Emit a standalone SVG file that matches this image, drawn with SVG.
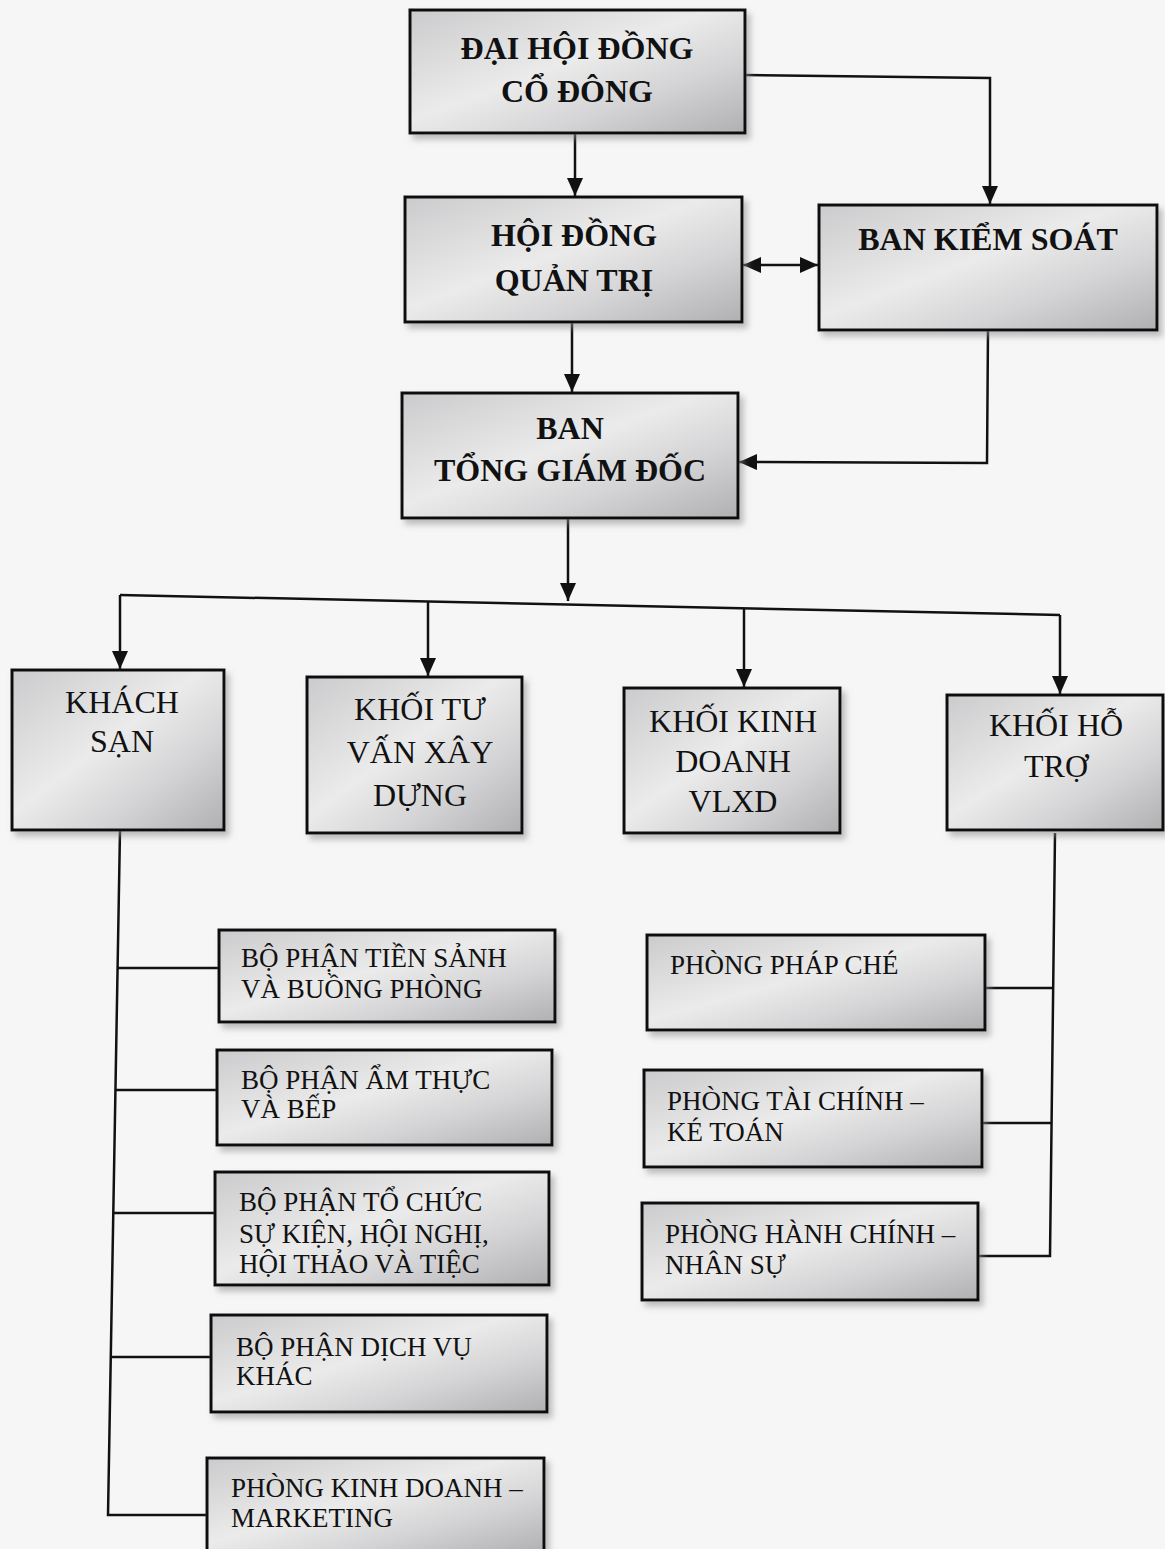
<svg xmlns="http://www.w3.org/2000/svg" width="1165" height="1549" viewBox="0 0 1165 1549">
<defs>
<linearGradient id="metal" x1="0" y1="0" x2="1" y2="1">
<stop offset="0" stop-color="#cbcbcd"/>
<stop offset="0.45" stop-color="#ebebeb"/>
<stop offset="0.7" stop-color="#d4d4d6"/>
<stop offset="1" stop-color="#b0b0b2"/>
</linearGradient>
<filter id="sh" x="-10%" y="-10%" width="125%" height="130%">
<feDropShadow dx="4" dy="5" stdDeviation="3" flood-color="#8a8a8a" flood-opacity="0.55"/>
</filter>
<marker id="arr" viewBox="0 0 18 16" refX="18" refY="8" markerWidth="18" markerHeight="16" markerUnits="userSpaceOnUse" orient="auto">
<path d="M0,0 L18,8 L0,16 Z" fill="#111"/>
</marker>
<marker id="arrs" viewBox="0 0 18 16" refX="0" refY="8" markerWidth="18" markerHeight="16" markerUnits="userSpaceOnUse" orient="auto">
<path d="M18,0 L0,8 L18,16 Z" fill="#111"/>
</marker>
</defs>
<style>
.box{fill:url(#metal);stroke:#111;stroke-width:3;filter:url(#sh)}
.tb{font-family:"Liberation Serif","Times New Roman",serif;font-weight:bold;font-size:32px;fill:#111;text-anchor:middle}
.tm{font-family:"Liberation Serif","Times New Roman",serif;font-size:32px;fill:#111;text-anchor:middle}
.ts{font-family:"Liberation Serif","Times New Roman",serif;font-size:27px;fill:#111}
.ln{fill:none;stroke:#111;stroke-width:2.5}
</style>
<rect width="1165" height="1549" fill="#f6f6f6"/>

<g id="connectors">
<path class="ln" d="M745,75 L990,78 L990,204" marker-end="url(#arr)"/>
<path class="ln" d="M575,133 L575,196" marker-end="url(#arr)"/>
<path class="ln" d="M743,265 L818,265" marker-start="url(#arrs)" marker-end="url(#arr)"/>
<path class="ln" d="M572,322 L572,392" marker-end="url(#arr)"/>
<path class="ln" d="M988,330 L987,463 L739,462" marker-end="url(#arr)"/>
<path class="ln" d="M568,518 L568,601" marker-end="url(#arr)"/>
<path class="ln" d="M120,595 L1060,615"/>
<path class="ln" d="M120,595 L120,669" marker-end="url(#arr)"/>
<path class="ln" d="M428,602 L428,676" marker-end="url(#arr)"/>
<path class="ln" d="M744,609 L744,687" marker-end="url(#arr)"/>
<path class="ln" d="M1060,615 L1060,694" marker-end="url(#arr)"/>
<path class="ln" d="M120,830 L108,1515 L207,1515"/>
<path class="ln" d="M117.6,968 L219,968"/>
<path class="ln" d="M115.4,1090 L217,1090"/>
<path class="ln" d="M113.3,1213 L215,1213"/>
<path class="ln" d="M110.8,1357 L211,1357"/>
<path class="ln" d="M1055,833 L1050,1256 L978,1256"/>
<path class="ln" d="M1053.2,988 L985,988"/>
<path class="ln" d="M1051.6,1123 L982,1123"/>
</g>

<g id="dhdcd">
<rect class="box" x="410" y="10" width="335" height="123"/>
<text class="tb" x="577" y="59">ĐẠI HỘI ĐỒNG</text>
<text class="tb" x="577" y="102">CỔ ĐÔNG</text>
</g>
<g id="hdqt">
<rect class="box" x="405" y="197" width="337" height="125"/>
<text class="tb" x="574" y="246">HỘI ĐỒNG</text>
<text class="tb" x="574" y="291">QUẢN TRỊ</text>
</g>
<g id="bks">
<rect class="box" x="819" y="205" width="338" height="125"/>
<text class="tb" x="988" y="250">BAN KIỂM SOÁT</text>
</g>
<g id="btgd">
<rect class="box" x="402" y="393" width="336" height="125"/>
<text class="tb" x="570" y="439">BAN</text>
<text class="tb" x="570" y="481">TỔNG GIÁM ĐỐC</text>
</g>

<g id="khachsan">
<rect class="box" x="12" y="670" width="212" height="160"/>
<text class="tm" x="122" y="713">KHÁCH</text>
<text class="tm" x="122" y="752">SẠN</text>
</g>
<g id="tuvan">
<rect class="box" x="307" y="677" width="215" height="156"/>
<text class="tm" x="420" y="720">KHỐI TƯ</text>
<text class="tm" x="420" y="763">VẤN XÂY</text>
<text class="tm" x="420" y="806">DỰNG</text>
</g>
<g id="vlxd">
<rect class="box" x="624" y="688" width="216" height="145"/>
<text class="tm" x="733" y="732">KHỐI KINH</text>
<text class="tm" x="733" y="772">DOANH</text>
<text class="tm" x="733" y="812">VLXD</text>
</g>
<g id="hotro">
<rect class="box" x="947" y="695" width="216" height="135"/>
<text class="tm" x="1056" y="736">KHỐI HỖ</text>
<text class="tm" x="1056" y="777">TRỢ</text>
</g>

<g id="tiensanh">
<rect class="box" x="219" y="930" width="336" height="92"/>
<text class="ts" x="241" y="967">BỘ PHẬN TIỀN SẢNH</text>
<text class="ts" x="241" y="998">VÀ BUỒNG PHÒNG</text>
</g>
<g id="amthuc">
<rect class="box" x="217" y="1050" width="335" height="95"/>
<text class="ts" x="241" y="1089">BỘ PHẬN ẨM THỰC</text>
<text class="ts" x="241" y="1118">VÀ BẾP</text>
</g>
<g id="sukien">
<rect class="box" x="215" y="1172" width="334" height="113"/>
<text class="ts" x="239" y="1211">BỘ PHẬN TỔ CHỨC</text>
<text class="ts" x="239" y="1243">SỰ KIỆN, HỘI NGHỊ,</text>
<text class="ts" x="239" y="1273">HỘI THẢO VÀ TIỆC</text>
</g>
<g id="dichvu">
<rect class="box" x="211" y="1315" width="336" height="97"/>
<text class="ts" x="236" y="1356">BỘ PHẬN DỊCH VỤ</text>
<text class="ts" x="236" y="1385">KHÁC</text>
</g>
<g id="marketing">
<rect class="box" x="207" y="1458" width="337" height="95"/>
<text class="ts" x="231" y="1497">PHÒNG KINH DOANH –</text>
<text class="ts" x="231" y="1527">MARKETING</text>
</g>

<g id="phapche">
<rect class="box" x="647" y="935" width="338" height="95"/>
<text class="ts" x="670" y="974">PHÒNG PHÁP CHÉ</text>
</g>
<g id="taichinh">
<rect class="box" x="644" y="1070" width="338" height="97"/>
<text class="ts" x="667" y="1110">PHÒNG TÀI CHÍNH –</text>
<text class="ts" x="667" y="1141">KÉ TOÁN</text>
</g>
<g id="hanhchinh">
<rect class="box" x="642" y="1203" width="336" height="97"/>
<text class="ts" x="665" y="1243">PHÒNG HÀNH CHÍNH –</text>
<text class="ts" x="665" y="1274">NHÂN SỰ</text>
</g>
</svg>
